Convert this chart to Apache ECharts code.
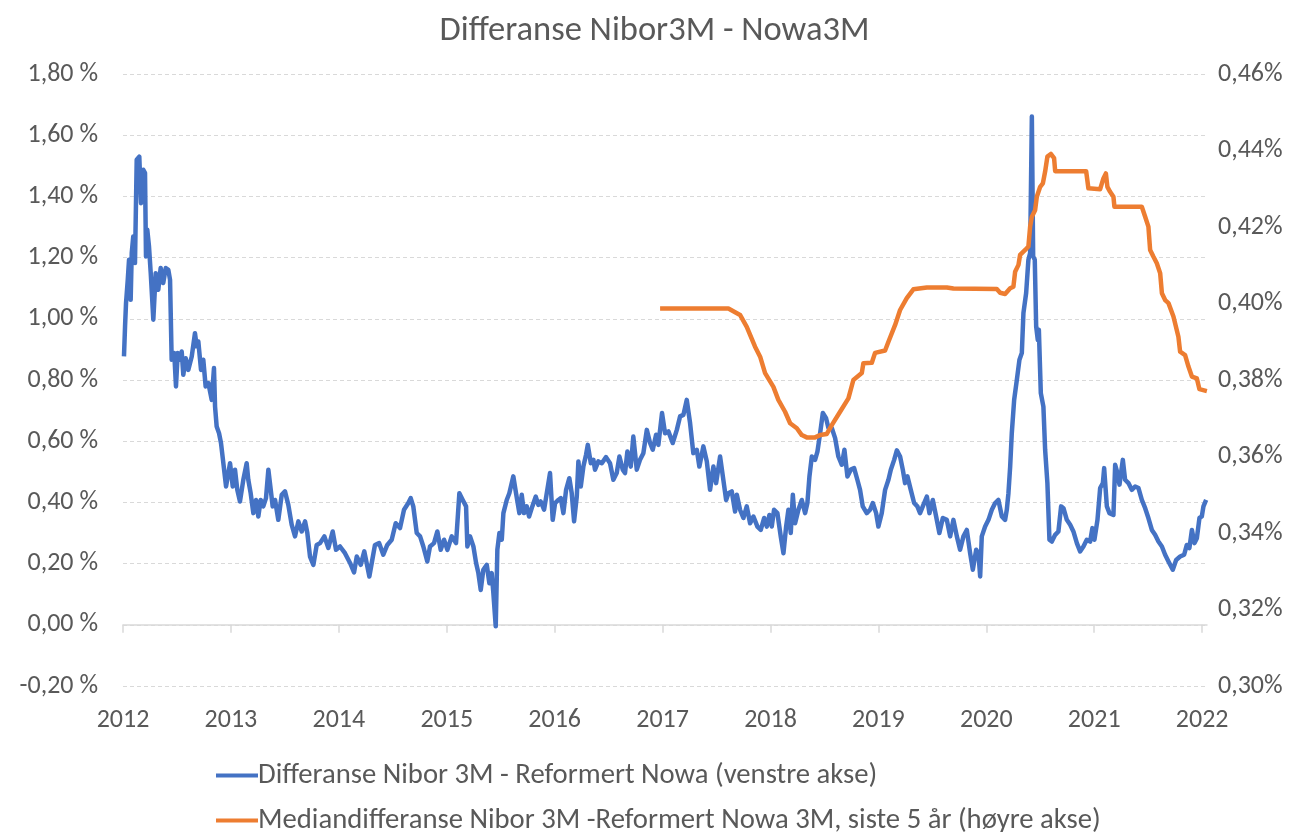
<!DOCTYPE html>
<html><head><meta charset="utf-8">
<script src="https://cdn.jsdelivr.net/npm/echarts@6/dist/echarts.min.js"></script>
<style>html,body{margin:0;padding:0;background:#fff}#c{width:1309px;height:832px}</style>
</head><body><div id="c"></div>
<script>
const chartTitle = 'Differanse Nibor3M - Nowa3M';
const seriesNames = [
  'Differanse Nibor 3M - Reformert Nowa (venstre akse)',
  'Mediandifferanse Nibor 3M -Reformert Nowa 3M, siste 5 år (høyre akse)'
];
const yearTicks = [2012, 2013, 2014, 2015, 2016, 2017, 2018, 2019, 2020, 2021, 2022];

// Blue: spread (left axis, percent)
const blueYears = [
2012.009,2012.019,2012.028,2012.044,2012.056,2012.071,2012.081,2012.095,2012.111,2012.127,2012.151,2012.167,2012.188,2012.204,2012.213,2012.225,2012.241,2012.257,2012.281,2012.303,2012.327,2012.349,2012.373,2012.396,2012.420,2012.436,2012.451,2012.475,2012.491,2012.507,2012.528,2012.544,2012.559,2012.581,2012.605,2012.637,2012.667,2012.683,2012.698,2012.723,2012.744,2012.766,2012.791,2012.822,2012.843,2012.853,2012.868,2012.890,2012.908,2012.930,2012.955,
2012.992,2013.017,2013.038,2013.059,2013.084,2013.115,2013.146,2013.161,2013.183,2013.208,2013.233,2013.254,2013.276,2013.300,2013.325,2013.347,2013.369,2013.387,2013.409,2013.439,2013.471,2013.501,2013.532,2013.563,2013.594,2013.625,2013.656,2013.687,2013.708,2013.733,2013.764,2013.795,2013.826,2013.866,2013.903,2013.943,2013.974,2014.011,2014.057,2014.104,2014.141,2014.166,2014.203,2014.236,2014.283,2014.305,2014.335,2014.373,2014.412,2014.449,2014.490,2014.527,2014.567,2014.604,2014.644,2014.666,2014.690,2014.722,2014.753,2014.783,2014.820,2014.845,2014.882,2014.913,2014.944,2014.975,2015.006,2015.046,2015.086,2015.117,2015.148,2015.179,2015.191,2015.216,2015.247,2015.272,2015.293,2015.315,2015.339,2015.371,2015.395,2015.417,2015.432,2015.454,2015.469,2015.488,2015.510,2015.525,2015.556,2015.580,
2015.617,2015.642,2015.673,2015.695,2015.716,2015.741,2015.763,2015.793,2015.825,2015.849,2015.871,2015.902,2015.927,2015.957,2015.982,2016.004,2016.034,2016.057,2016.081,2016.106,2016.136,2016.158,2016.180,2016.205,2016.220,2016.242,2016.266,2016.291,2016.307,2016.335,2016.359,2016.374,2016.405,2016.437,2016.476,2016.513,2016.544,2016.575,2016.600,2016.631,2016.652,2016.674,2016.705,2016.729,2016.761,2016.791,2016.822,2016.854,2016.884,2016.909,2016.940,2016.961,2016.995,2017.023,2017.054,2017.094,2017.132,2017.162,2017.193,2017.224,2017.255,2017.285,2017.317,2017.341,2017.378,2017.410,2017.440,2017.471,2017.496,
2017.533,2017.563,2017.589,2017.610,2017.641,2017.672,2017.688,2017.718,2017.749,2017.780,2017.811,2017.842,2017.879,2017.910,2017.941,2017.966,2017.990,2018.012,2018.033,2018.064,2018.095,2018.120,2018.145,2018.166,2018.188,2018.207,2018.228,2018.259,2018.290,2018.321,2018.342,2018.361,2018.383,2018.413,2018.435,2018.460,2018.485,2018.515,2018.537,2018.568,2018.599,2018.629,2018.661,2018.685,2018.713,2018.744,2018.775,2018.805,2018.830,2018.855,2018.892,2018.923,2018.948,2018.979,2019.000,2019.031,2019.062,2019.093,2019.115,2019.146,2019.171,2019.201,2019.226,2019.247,2019.269,2019.300,2019.331,2019.361,2019.386,2019.417,2019.449,2019.473,2019.504,2019.535,2019.565,2019.597,2019.634,2019.665,2019.695,2019.727,2019.757,2019.788,2019.819,2019.850,2019.875,2019.906,2019.927,2019.943,2019.958,2019.989,2020.020,2020.051,2020.082,2020.112,
2020.144,2020.174,2020.190,2020.205,2020.221,2020.236,2020.258,2020.283,2020.307,2020.329,2020.344,2020.369,2020.390,2020.406,2020.422,2020.434,2020.449,2020.462,2020.477,2020.487,2020.505,2020.529,2020.545,2020.566,2020.585,2020.607,2020.638,2020.668,2020.693,2020.715,2020.746,2020.777,2020.807,2020.839,2020.869,2020.900,2020.931,2020.962,2020.983,2021.002,2021.030,2021.055,2021.080,2021.092,2021.117,2021.141,2021.178,2021.194,2021.215,2021.234,2021.265,2021.286,2021.317,2021.348,2021.379,2021.410,2021.441,2021.472,2021.502,2021.534,2021.564,2021.595,2021.627,2021.657,2021.688,2021.728,2021.759,2021.796,2021.833,2021.858,2021.882,2021.905,2021.929,2021.951,2021.975,2021.997,2022.012,2022.037
];
const blueValues = [
0.877,0.975,1.051,1.127,1.193,1.062,1.215,1.269,1.182,1.520,1.530,1.378,1.487,1.476,1.204,1.291,1.236,1.149,0.997,1.149,1.095,1.166,1.117,1.166,1.160,1.127,0.866,0.888,0.779,0.888,0.866,0.893,0.817,0.871,0.833,0.877,0.953,0.910,0.926,0.833,0.866,0.779,0.790,0.735,0.839,0.713,0.648,0.626,0.594,0.528,0.452,
0.528,0.452,0.507,0.441,0.403,0.474,0.528,0.474,0.430,0.365,0.408,0.354,0.408,0.387,0.414,0.507,0.441,0.387,0.408,0.343,0.425,0.436,0.392,0.327,0.289,0.338,0.305,0.338,0.300,0.223,0.196,0.261,0.267,0.289,0.251,0.305,0.245,0.256,0.234,0.202,0.171,0.223,0.196,0.240,0.158,0.202,0.261,0.267,0.229,0.261,0.278,0.332,0.316,0.376,0.398,0.414,0.387,0.300,0.289,0.256,0.207,0.256,0.267,0.305,0.245,0.278,0.245,0.289,0.267,0.430,0.408,0.387,0.256,0.289,0.256,0.202,0.169,0.114,0.180,0.196,0.136,0.169,0.104,-0.005,0.245,0.300,0.278,0.365,0.408,0.430,
0.485,0.430,0.365,0.425,0.365,0.387,0.354,0.387,0.419,0.392,0.403,0.376,0.430,0.496,0.343,0.398,0.408,0.414,0.365,0.441,0.479,0.430,0.338,0.419,0.534,0.452,0.517,0.556,0.588,0.528,0.539,0.507,0.534,0.528,0.548,0.528,0.474,0.496,0.550,0.507,0.496,0.566,0.517,0.615,0.507,0.539,0.561,0.637,0.594,0.572,0.621,0.588,0.692,0.626,0.632,0.594,0.637,0.681,0.686,0.735,0.659,0.561,0.572,0.517,0.583,0.534,0.441,0.517,0.463,
0.550,0.474,0.408,0.430,0.436,0.370,0.425,0.376,0.349,0.387,0.332,0.354,0.321,0.310,0.349,0.321,0.359,0.321,0.376,0.365,0.289,0.234,0.321,0.376,0.300,0.425,0.332,0.376,0.408,0.365,0.398,0.485,0.550,0.539,0.566,0.626,0.692,0.675,0.643,0.643,0.610,0.550,0.523,0.572,0.485,0.507,0.512,0.474,0.441,0.387,0.365,0.376,0.398,0.365,0.321,0.365,0.441,0.474,0.507,0.539,0.570,0.550,0.507,0.463,0.485,0.441,0.398,0.387,0.365,0.392,0.419,0.365,0.408,0.354,0.300,0.349,0.343,0.289,0.343,0.289,0.245,0.289,0.310,0.234,0.180,0.245,0.234,0.158,0.289,0.321,0.343,0.376,0.398,0.408,
0.354,0.343,0.376,0.430,0.517,0.626,0.735,0.801,0.866,0.888,1.019,1.084,1.193,1.215,1.661,1.204,1.193,0.975,0.931,0.964,0.757,0.713,0.572,0.463,0.278,0.272,0.294,0.305,0.387,0.381,0.343,0.327,0.305,0.267,0.240,0.256,0.278,0.272,0.316,0.278,0.343,0.447,0.463,0.512,0.387,0.365,0.359,0.523,0.496,0.458,0.539,0.474,0.463,0.441,0.452,0.447,0.408,0.381,0.349,0.310,0.294,0.272,0.256,0.229,0.207,0.180,0.212,0.223,0.229,0.261,0.251,0.310,0.267,0.283,0.349,0.354,0.387,0.408
];

// Orange: 5-year median spread (right axis, percent)
const orangeYears = [
2016.977,2017.610,2017.718,2017.780,2017.857,2017.904,2017.950,2018.027,2018.073,2018.135,2018.182,2018.244,2018.290,2018.336,2018.413,2018.460,2018.522,2018.568,2018.645,2018.722,2018.768,2018.846,2018.861,2018.939,2018.969,2019.062,2019.093,2019.155,2019.201,2019.263,2019.324,2019.449,2019.634,2019.695,2020.097,2020.128,2020.174,2020.221,2020.251,2020.267,2020.298,2020.313,2020.360,2020.390,2020.406,2020.422,2020.452,2020.468,2020.499,2020.524,2020.545,2020.566,2020.598,2020.628,2020.638,2020.925,2020.946,2021.055,2021.085,2021.108,2021.122,2021.147,2021.178,2021.187,2021.441,2021.472,2021.502,2021.518,2021.549,2021.580,2021.611,2021.627,2021.657,2021.688,2021.734,2021.780,2021.796,2021.842,2021.873,2021.905,2021.951,2021.975,2022.044
];
const orangeValues = [
0.3987,0.3987,0.3970,0.3939,0.3887,0.3861,0.3818,0.3782,0.3748,0.3717,0.3687,0.3674,0.3656,0.3650,0.3650,0.3656,0.3659,0.3682,0.3717,0.3752,0.3800,0.3818,0.3844,0.3845,0.3871,0.3877,0.3900,0.3944,0.3983,0.4014,0.4037,0.4042,0.4042,0.4039,0.4038,0.4028,0.4025,0.4040,0.4044,0.4083,0.4101,0.4127,0.4140,0.4149,0.4201,0.4227,0.4244,0.4279,0.4305,0.4314,0.4345,0.4384,0.4391,0.4380,0.4346,0.4346,0.4301,0.4299,0.4327,0.4340,0.4305,0.4292,0.4279,0.4253,0.4253,0.4227,0.4201,0.4140,0.4122,0.4105,0.4079,0.4027,0.4009,0.4001,0.3966,0.3913,0.3874,0.3865,0.3835,0.3809,0.3804,0.3776,0.3771
];

const FONT = 'Carlito, Calibri, Lato, sans-serif';
const GREY = '#595959';
const zip = (xs, ys) => xs.map((x, i) => [x, ys[i]]);
const pct = (v, d, sep) => v.toFixed(d).replace('.', ',') + sep + '%';
const legendBase = {
  orient: 'horizontal', left: 211,
  icon: 'rect', itemWidth: 42, itemHeight: 4,
  textStyle: {fontFamily: FONT, fontSize: 28.7, color: GREY, padding: [0, 0, 0, -5]}
};

const chart = echarts.init(document.getElementById('c'), null, {renderer: 'canvas'});
chart.setOption({
  animation: false,
  backgroundColor: '#fff',
  textStyle: {fontFamily: FONT},
  title: {
    text: chartTitle, left: 'center', top: 9,
    textStyle: {fontFamily: FONT, fontSize: 34.5, fontWeight: 'normal', color: GREY}
  },
  grid: {left: 123, right: 102, top: 74, bottom: 146, containLabel: false},
  legend: [
    Object.assign({}, legendBase, {top: 756, data: [seriesNames[0]]}),
    Object.assign({}, legendBase, {top: 801, data: [seriesNames[1]]})
  ],
  xAxis: [{
    type: 'value', min: 2012, max: 2022.045, position: 'bottom',
    axisLine: {show: true, onZero: true, lineStyle: {color: '#D9D9D9', width: 1.5}},
    axisTick: {show: true, inside: false, length: 8, customValues: yearTicks, lineStyle: {color: '#D9D9D9', width: 1.5}},
    axisLabel: {show: false},
    splitLine: {show: false}
  }, {
    type: 'value', min: 2012, max: 2022.045, position: 'bottom',
    axisLine: {show: false, onZero: false},
    axisTick: {show: false},
    axisLabel: {show: true, customValues: yearTicks, margin: 21, fontFamily: FONT, fontSize: 26, color: GREY,
      formatter: v => String(Math.round(v))},
    splitLine: {show: false}
  }],
  yAxis: [{
    type: 'value', min: -0.2, max: 1.8, interval: 0.2, position: 'left',
    axisLine: {show: false}, axisTick: {show: false},
    axisLabel: {margin: 25, fontFamily: FONT, fontSize: 26, color: GREY, formatter: v => pct(v, 2, ' ')},
    splitLine: {show: true, lineStyle: {color: '#D9D9D9', type: [4, 3], width: 1}}
  }, {
    type: 'value', min: 0.30, max: 0.46, interval: 0.02, position: 'right',
    axisLine: {show: false}, axisTick: {show: false},
    axisLabel: {margin: 11, fontFamily: FONT, fontSize: 26, color: GREY, formatter: v => pct(v, 2, '')},
    splitLine: {show: false}
  }],
  series: [{
    name: seriesNames[0], type: 'line', xAxisIndex: 0, yAxisIndex: 0,
    data: zip(blueYears, blueValues), showSymbol: false, symbol: 'none',
    lineStyle: {color: '#4472C4', width: 4.5, join: 'round'}, itemStyle: {color: '#4472C4'}, z: 2
  }, {
    name: seriesNames[1], type: 'line', xAxisIndex: 0, yAxisIndex: 1,
    data: zip(orangeYears, orangeValues), showSymbol: false, symbol: 'none',
    lineStyle: {color: '#ED7D31', width: 4.5, join: 'round'}, itemStyle: {color: '#ED7D31'}, z: 3
  }]
});
</script></body></html>
